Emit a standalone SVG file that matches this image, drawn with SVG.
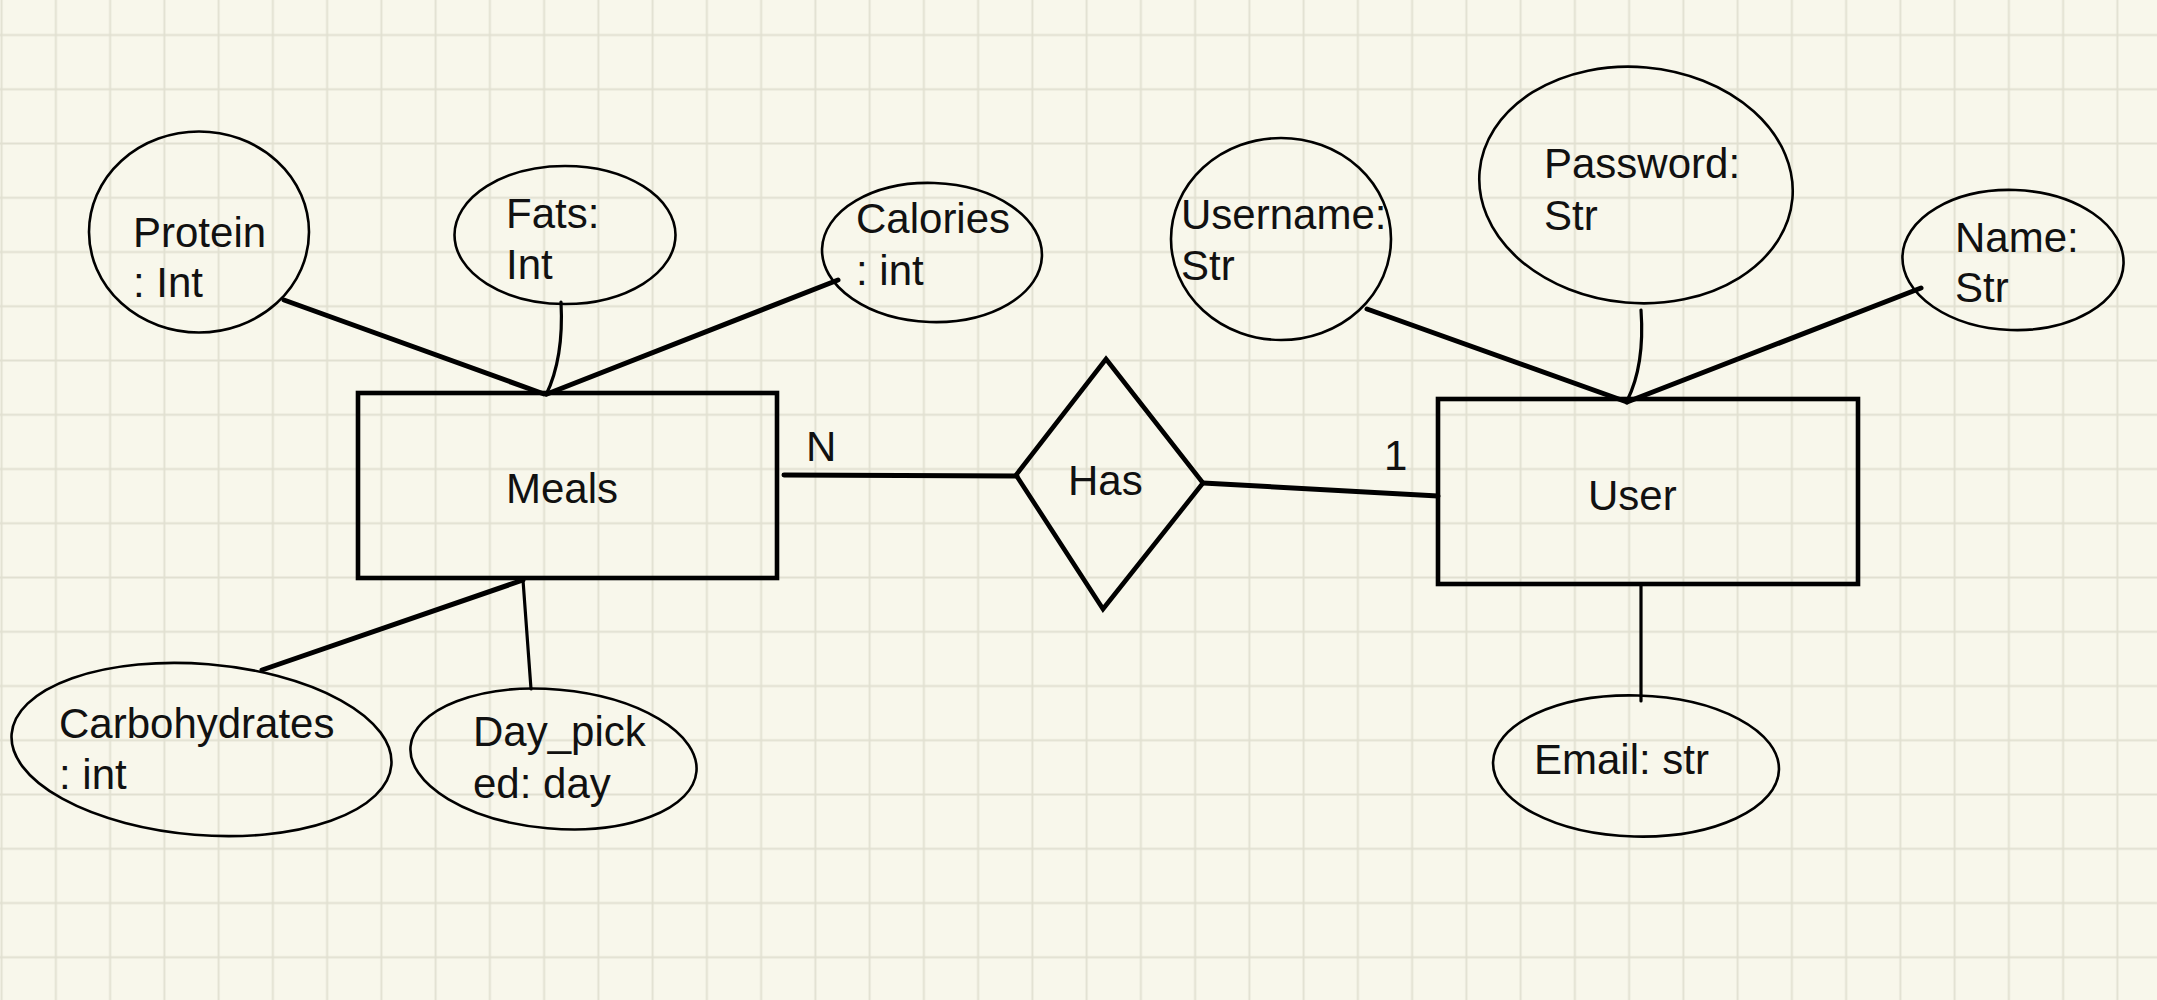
<svg xmlns="http://www.w3.org/2000/svg" width="2157" height="1000" viewBox="0 0 2157 1000">
<style>
  .bg { fill: #f8f7eb; }
  .attr { fill: none; stroke: #000; stroke-width: 2.6; }
  .ent { fill: none; stroke: #000; stroke-width: 4.6; }
  .rel { fill: none; stroke: #000; stroke-width: 4.6; stroke-linejoin: miter; }
  .thick { fill: none; stroke: #000; stroke-width: 5; stroke-linecap: round; }
  .thin { fill: none; stroke: #000; stroke-width: 3.2; stroke-linecap: round; }
  text { font-family: "Liberation Sans", Arial, Helvetica, sans-serif; font-size: 42px; fill: #111; }
</style>
<defs>
  <pattern id="grid" patternUnits="userSpaceOnUse" x="-25.5" y="7.9" width="54.25" height="54.25">
    <path d="M27.125 0V54.25M0 27.125H54.25" stroke="#e1e0d1" stroke-width="1.9" fill="none"/>
  </pattern>
</defs>
<rect class="bg" x="0" y="0" width="2157" height="1000"/>
<rect x="0" y="0" width="2157" height="1000" fill="url(#grid)"/>

<g id="connectors">
  <path class="thick" d="M284 300 L544 394"/>
  <path class="thin" d="M561 302 Q564 358 546 395"/>
  <path class="thick" d="M838 280 L547 394"/>
  <path class="thick" d="M784 475 L1017 476"/>
  <path class="thick" d="M1203 483 L1438 496"/>
  <path class="thick" d="M1367 309 L1627 402"/>
  <path class="thin" d="M1641 310 Q1645 365 1627 401"/>
  <path class="thick" d="M1921 288 L1627 402"/>
  <path class="thick" d="M523 580 L262 670"/>
  <path class="thin" d="M523 580 L531 689"/>
  <path class="thin" d="M1641 584 L1641 701"/>
</g>

<g id="meals">
  <rect class="ent" x="358" y="393" width="419" height="185"/>
  <text x="506" y="503">Meals</text>
</g>
<g id="user">
  <rect class="ent" x="1438" y="399" width="420" height="185"/>
  <text x="1588" y="510">User</text>
</g>
<g id="has">
  <path class="rel" d="M1106 359 L1203 483 L1103 609 L1016 475 Z"/>
  <text x="1068" y="495">Has</text>
</g>
<g id="card-n">
  <text x="806" y="461">N</text>
</g>
<g id="card-1">
  <text x="1384" y="470">1</text>
</g>

<g id="protein">
  <ellipse class="attr" cx="199" cy="232" rx="110" ry="100.5"/>
  <text x="133" y="247">Protein</text>
  <text x="133" y="297">: Int</text>
</g>
<g id="fats">
  <ellipse class="attr" cx="565" cy="235" rx="110.5" ry="69"/>
  <text x="506" y="228">Fats:</text>
  <text x="506" y="279">Int</text>
</g>
<g id="calories">
  <ellipse class="attr" cx="932" cy="252.5" rx="110" ry="69.5" transform="rotate(2 932 252.5)"/>
  <text x="856" y="233">Calories</text>
  <text x="856" y="285">: int</text>
</g>
<g id="carbohydrates">
  <ellipse class="attr" cx="201.5" cy="749.5" rx="190.5" ry="85.5" transform="rotate(4.7 201.5 749.5)"/>
  <text x="59" y="738">Carbohydrates</text>
  <text x="59" y="789">: int</text>
</g>
<g id="day_picked">
  <ellipse class="attr" cx="553.5" cy="759" rx="143.5" ry="69.5" transform="rotate(5 553.5 759)"/>
  <text x="473" y="746">Day_pick</text>
  <text x="473" y="798">ed: day</text>
</g>
<g id="username">
  <ellipse class="attr" cx="1281" cy="239" rx="110" ry="101"/>
  <text x="1181" y="229">Username:</text>
  <text x="1181" y="280">Str</text>
</g>
<g id="password">
  <ellipse class="attr" cx="1636" cy="185" rx="157" ry="118" transform="rotate(5 1636 185)"/>
  <text x="1544" y="178">Password:</text>
  <text x="1544" y="230">Str</text>
</g>
<g id="name">
  <ellipse class="attr" cx="2013" cy="260" rx="110.6" ry="70" transform="rotate(2 2013 260)"/>
  <text x="1955" y="252">Name:</text>
  <text x="1955" y="302">Str</text>
</g>
<g id="email">
  <ellipse class="attr" cx="1636" cy="766" rx="143" ry="70.5" transform="rotate(1.5 1636 766)"/>
  <text x="1534" y="774">Email: str</text>
</g>
</svg>
